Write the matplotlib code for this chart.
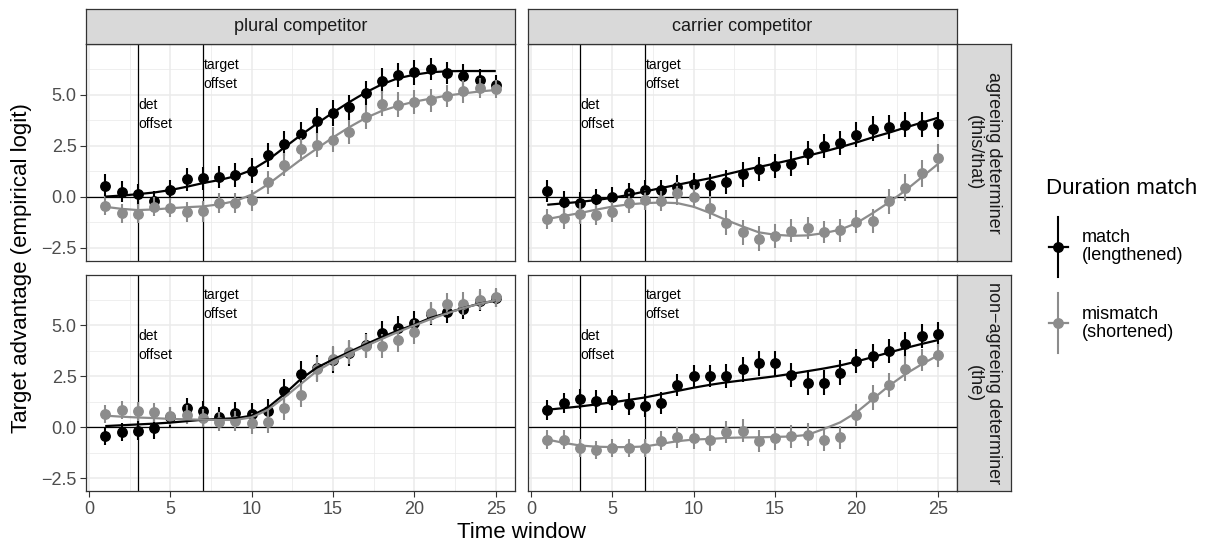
import matplotlib
matplotlib.use("Agg")
import matplotlib.pyplot as plt

plt.rcParams['font.family'] = ['Liberation Sans', 'DejaVu Sans']

# ---------------- data ----------------
time_window = [1, 2, 3, 4, 5, 6, 7, 8, 9, 10, 11, 12, 13, 14, 15, 16, 17, 18, 19, 20, 21, 22, 23, 24, 25]
col_labels = ["plural competitor", "carrier competitor"]
row_labels = ["agreeing determiner\n(this/that)", "non\u2212agreeing determiner\n(the)"]
legend_title = "Duration match"
legend_labels = ["match\n(lengthened)", "mismatch\n(shortened)"]
det_offset = 3
target_offset = 7
x_ticks = [0, 5, 10, 15, 20, 25]
y_ticks = [-2.5, 0.0, 2.5, 5.0]

# plural competitor / agreeing determiner
pa_match = [0.54, 0.24, 0.11, -0.24, 0.32, 0.84, 0.89, 0.97, 1.06, 1.27, 2.03, 2.6, 3.05, 3.70, 4.09, 4.38, 5.08, 5.68, 5.96, 6.09, 6.25, 6.06, 5.93, 5.71, 5.49]
pa_match_se = [0.55, 0.5, 0.5, 0.5, 0.5, 0.55, 0.55, 0.55, 0.6, 0.6, 0.6, 0.62, 0.62, 0.62, 0.62, 0.62, 0.6, 0.6, 0.6, 0.6, 0.55, 0.55, 0.55, 0.55, 0.45]
pa_match_fit = [0.0, 0.05, 0.12, 0.2, 0.32, 0.48, 0.66, 0.81, 1.0, 1.3, 1.79, 2.4, 3.0, 3.57, 4.12, 4.63, 5.1, 5.5, 5.8, 5.97, 6.09, 6.14, 6.15, 6.15, 6.15]
pa_mis = [-0.45, -0.81, -0.84, -0.49, -0.54, -0.76, -0.73, -0.32, -0.32, -0.19, 0.70, 1.57, 2.31, 2.52, 2.79, 3.17, 3.9, 4.55, 4.5, 4.63, 4.71, 4.92, 5.15, 5.31, 5.28]
pa_mis_se = [0.46, 0.46, 0.46, 0.46, 0.46, 0.5, 0.5, 0.5, 0.5, 0.5, 0.55, 0.55, 0.55, 0.6, 0.6, 0.6, 0.6, 0.6, 0.6, 0.6, 0.55, 0.55, 0.55, 0.5, 0.45]
pa_mis_fit = [-0.5, -0.6, -0.66, -0.63, -0.57, -0.52, -0.48, -0.38, -0.22, 0.1, 0.6, 1.2, 1.8, 2.35, 2.9, 3.4, 3.85, 4.2, 4.45, 4.65, 4.8, 4.95, 5.05, 5.15, 5.22]

# carrier competitor / agreeing determiner
ca_match = [0.28, -0.28, -0.29, -0.11, -0.03, 0.16, 0.32, 0.32, 0.49, 0.63, 0.58, 0.71, 1.09, 1.35, 1.51, 1.62, 2.14, 2.47, 2.63, 3.04, 3.33, 3.41, 3.52, 3.52, 3.54]
ca_match_se = [0.55, 0.55, 0.5, 0.5, 0.5, 0.5, 0.5, 0.5, 0.55, 0.55, 0.55, 0.6, 0.6, 0.6, 0.6, 0.6, 0.6, 0.6, 0.6, 0.6, 0.6, 0.6, 0.6, 0.6, 0.6]
ca_match_fit = [-0.4, -0.33, -0.26, -0.17, -0.06, 0.08, 0.25, 0.42, 0.58, 0.74, 0.9, 1.09, 1.28, 1.45, 1.62, 1.8, 2.0, 2.2, 2.42, 2.65, 2.9, 3.13, 3.38, 3.62, 3.86]
ca_mis = [-1.1, -1.07, -0.83, -0.89, -0.75, -0.29, -0.16, -0.21, 0.16, 0.0, -0.54, -1.27, -1.75, -2.06, -1.92, -1.67, -1.54, -1.74, -1.66, -1.22, -1.19, -0.24, 0.44, 1.14, 1.9]
ca_mis_se = [0.5, 0.5, 0.5, 0.5, 0.5, 0.5, 0.5, 0.5, 0.55, 0.55, 0.55, 0.6, 0.6, 0.6, 0.6, 0.55, 0.55, 0.55, 0.55, 0.55, 0.6, 0.6, 0.65, 0.65, 0.7]
ca_mis_fit = [-1.1, -0.95, -0.81, -0.64, -0.49, -0.38, -0.32, -0.29, -0.32, -0.5, -0.8, -1.15, -1.46, -1.75, -1.87, -1.92, -1.9, -1.79, -1.62, -1.3, -0.81, -0.28, 0.29, 0.94, 1.59]

# plural competitor / non-agreeing determiner
pn_match = [-0.44, -0.24, -0.16, -0.05, 0.5, 0.93, 0.78, 0.49, 0.68, 0.65, 0.78, 1.79, 2.63, 2.9, 3.3, 3.62, 4.03, 4.63, 4.84, 5.11, 5.55, 5.65, 5.81, 6.2, 6.33]
pn_match_se = [0.45, 0.45, 0.45, 0.5, 0.5, 0.5, 0.5, 0.5, 0.55, 0.55, 0.6, 0.6, 0.62, 0.62, 0.62, 0.6, 0.6, 0.6, 0.6, 0.6, 0.55, 0.55, 0.5, 0.5, 0.45]
pn_match_fit = [0.06, 0.1, 0.14, 0.18, 0.23, 0.3, 0.37, 0.41, 0.44, 0.57, 0.97, 1.62, 2.35, 2.92, 3.32, 3.69, 4.06, 4.42, 4.74, 5.03, 5.36, 5.6, 5.84, 6.06, 6.2]
pn_mis = [0.65, 0.84, 0.78, 0.73, 0.54, 0.62, 0.45, 0.28, 0.32, 0.19, 0.28, 0.93, 1.56, 2.84, 3.36, 3.69, 3.98, 3.98, 4.27, 4.66, 5.6, 6.04, 6.06, 6.25, 6.36]
pn_mis_se = [0.45, 0.45, 0.45, 0.45, 0.45, 0.45, 0.45, 0.45, 0.5, 0.5, 0.55, 0.55, 0.55, 0.6, 0.6, 0.6, 0.6, 0.6, 0.6, 0.6, 0.55, 0.55, 0.55, 0.5, 0.45]
pn_mis_fit = [0.57, 0.52, 0.48, 0.45, 0.41, 0.39, 0.37, 0.36, 0.36, 0.49, 0.86, 1.46, 2.11, 2.75, 3.22, 3.62, 3.98, 4.33, 4.67, 4.99, 5.3, 5.58, 5.84, 6.05, 6.22]

# carrier competitor / non-agreeing determiner
cn_match = [0.86, 1.19, 1.38, 1.27, 1.33, 1.14, 1.06, 1.19, 2.06, 2.52, 2.52, 2.52, 2.84, 3.13, 3.13, 2.55, 2.19, 2.19, 2.68, 3.25, 3.49, 3.73, 4.06, 4.46, 4.55]
cn_match_se = [0.5, 0.5, 0.5, 0.55, 0.5, 0.55, 0.55, 0.55, 0.55, 0.55, 0.55, 0.6, 0.6, 0.6, 0.6, 0.6, 0.6, 0.6, 0.6, 0.6, 0.6, 0.6, 0.6, 0.6, 0.6]
cn_match_fit = [0.86, 0.94, 1.02, 1.12, 1.22, 1.34, 1.46, 1.62, 1.78, 1.94, 2.08, 2.2, 2.3, 2.4, 2.5, 2.62, 2.75, 2.88, 3.03, 3.22, 3.44, 3.66, 3.88, 4.08, 4.27]
cn_mis = [-0.6, -0.6, -1.02, -1.1, -1.02, -1.02, -1.02, -0.65, -0.49, -0.54, -0.6, -0.24, -0.16, -0.68, -0.54, -0.44, -0.36, -0.6, -0.49, 0.6, 1.46, 2.06, 2.87, 3.3, 3.52]
cn_mis_se = [0.45, 0.45, 0.45, 0.45, 0.45, 0.45, 0.45, 0.45, 0.5, 0.5, 0.55, 0.55, 0.55, 0.55, 0.55, 0.55, 0.55, 0.55, 0.55, 0.55, 0.6, 0.6, 0.6, 0.55, 0.55]
cn_mis_fit = [-0.6, -0.76, -0.89, -0.95, -0.97, -0.97, -0.94, -0.81, -0.68, -0.6, -0.57, -0.52, -0.5, -0.49, -0.47, -0.45, -0.37, -0.08, 0.24, 0.73, 1.38, 2.03, 2.6, 3.08, 3.52]

panels = [
    [(pa_match, pa_match_se, pa_match_fit, pa_mis, pa_mis_se, pa_mis_fit),
     (ca_match, ca_match_se, ca_match_fit, ca_mis, ca_mis_se, ca_mis_fit)],
    [(pn_match, pn_match_se, pn_match_fit, pn_mis, pn_mis_se, pn_mis_fit),
     (cn_match, cn_match_se, cn_match_fit, cn_mis, cn_mis_se, cn_mis_fit)],
]

# ---------------- styling ----------------
W, H = 1206, 544
DPI = 100
MATCH_COL = "#000000"
MIS_COL = "#8C8C8C"
GRID_COL = "#EBEBEB"
BORDER_COL = "#333333"
STRIP_FILL = "#D9D9D9"
TICK_COL = "#4D4D4D"

fig = plt.figure(figsize=(W / DPI, H / DPI), dpi=DPI)


def px_axes(x0, y0, x1, y1, **kw):
    return fig.add_axes([x0 / W, 1 - y1 / H, (x1 - x0) / W, (y1 - y0) / H], **kw)


col_x = [(85.7, 515.3), (527.7, 957.3)]
row_y = [(44.3, 260.7), (275.0, 491.4)]
strip_top = (9.3, 44.3)
strip_right = (957.3, 1011.0)

XLIM = (-0.2, 26.2)
YLIM = (-3.14, 7.46)

for r in range(2):
    for c in range(2):
        x0, x1 = col_x[c]
        y0, y1 = row_y[r]
        ax = px_axes(x0, y0, x1, y1)
        ax.set_xlim(*XLIM)
        ax.set_ylim(*YLIM)
        ax.set_axisbelow(True)
        ax.set_xticks(x_ticks)
        ax.set_xticks([2.5, 7.5, 12.5, 17.5, 22.5], minor=True)
        ax.set_yticks(y_ticks)
        ax.set_yticks([-1.25, 1.25, 3.75, 6.25], minor=True)
        ax.grid(which='major', color=GRID_COL, lw=1.1)
        ax.grid(which='minor', color=GRID_COL, lw=0.55)
        for sp in ax.spines.values():
            sp.set_color(BORDER_COL)
            sp.set_linewidth(0.9)
        ax.tick_params(which='minor', length=0)
        ax.tick_params(which='major', colors=BORDER_COL, width=0.8, length=4.1,
                       labelsize=13, labelcolor=TICK_COL, pad=2.5)
        if c == 0:
            ax.set_yticklabels([f"{v:.1f}".replace("-", "\u2212") for v in y_ticks])
        else:
            ax.tick_params(axis='y', length=0, labelleft=False)
        if r == 1:
            ax.set_xticklabels([str(v) for v in x_ticks])
        else:
            ax.tick_params(axis='x', length=0, labelbottom=False)

        ax.axhline(0, color='black', lw=0.9, zorder=1)
        ax.axvline(det_offset, color='black', lw=0.9, zorder=1)
        ax.axvline(target_offset, color='black', lw=0.9, zorder=1)
        ax.text(det_offset + 0.05, 4.0, "det\noffset", ha='left', va='center',
                fontsize=10, linespacing=1.45, color='black', zorder=2)
        ax.text(target_offset + 0.05, 6.0, "target\noffset", ha='left', va='center',
                fontsize=10, linespacing=1.45, color='black', zorder=2)

        m, mse, mfit, g, gse, gfit = panels[r][c]
        ax.errorbar(time_window, m, yerr=mse, fmt='o', color=MATCH_COL, ms=6.8,
                    elinewidth=1.5, capsize=0, zorder=3)
        ax.errorbar(time_window, g, yerr=gse, fmt='o', color=MIS_COL, ms=6.8,
                    elinewidth=1.5, capsize=0, zorder=4)
        ax.plot(time_window, mfit, color=MATCH_COL, lw=1.6, zorder=5,
                solid_capstyle='butt')
        ax.plot(time_window, gfit, color=MIS_COL, lw=1.6, zorder=5,
                solid_capstyle='butt')

# strips
for c in range(2):
    x0, x1 = col_x[c]
    sax = px_axes(x0, strip_top[0], x1, strip_top[1])
    sax.set_facecolor(STRIP_FILL)
    sax.set_xticks([]); sax.set_yticks([])
    for sp in sax.spines.values():
        sp.set_color(BORDER_COL); sp.set_linewidth(0.9)
    sax.text(0.5, 0.5, col_labels[c], ha='center', va='center', fontsize=13,
             color='#1A1A1A', transform=sax.transAxes)

for r in range(2):
    y0, y1 = row_y[r]
    sax = px_axes(strip_right[0], y0, strip_right[1], y1)
    sax.set_facecolor(STRIP_FILL)
    sax.set_xticks([]); sax.set_yticks([])
    for sp in sax.spines.values():
        sp.set_color(BORDER_COL); sp.set_linewidth(0.9)
    sax.text(0.5, 0.5, row_labels[r], ha='center', va='center', fontsize=13,
             color='#1A1A1A', rotation=270, rotation_mode='anchor',
             multialignment='center', linespacing=1.12, transform=sax.transAxes)

# overlay for titles and legend (pixel coordinates)
lax = fig.add_axes([0, 0, 1, 1], facecolor='none')
lax.set_xlim(0, W)
lax.set_ylim(H, 0)
lax.axis('off')

lax.text(521.5, 533, "Time window", ha='center', va='center', fontsize=16)
lax.text(22, 268, "Target advantage (empirical logit)", ha='center', va='center',
         fontsize=16, rotation=90)

lax.text(1046, 188, legend_title, ha='left', va='center', fontsize=16)
key_cols = [MATCH_COL, MIS_COL]
key_y = [246.7, 323.3]
for col, yc, lab in zip(key_cols, key_y, legend_labels):
    lax.plot([1058.3, 1058.3], [yc - 30, yc + 30], color=col, lw=1.5)
    lax.plot([1049, 1068], [yc, yc], color=col, lw=1.6)
    lax.plot([1058.3], [yc], 'o', color=col, ms=6.8)
    lax.text(1082, yc, lab, ha='left', va='center', fontsize=13, linespacing=1.05)

fig.savefig("out.png", dpi=DPI)
